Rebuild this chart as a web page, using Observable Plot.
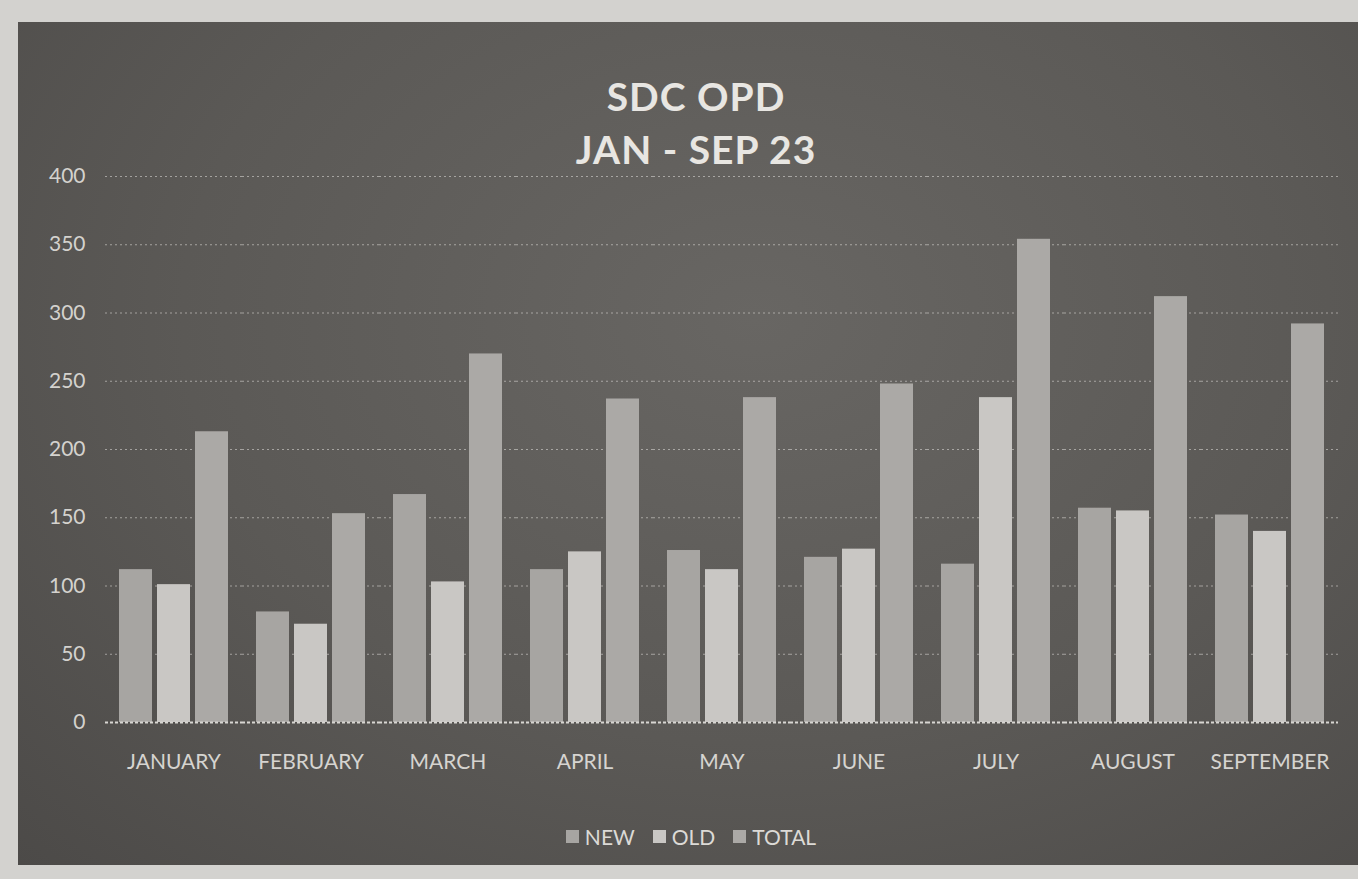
<!DOCTYPE html>
<html><head><meta charset="utf-8">
<script src="https://cdn.jsdelivr.net/npm/d3@7"></script>
<script src="https://cdn.jsdelivr.net/npm/@observablehq/plot@0.6"></script>
<style>
body{margin:0;background:#d3d2cf;width:1358px;height:879px;overflow:hidden;font-family:Lato,"Open Sans",sans-serif;position:relative;}
#chart{position:absolute;left:18px;top:22px;width:1340px;height:843px;
 background:radial-gradient(ellipse at 55% 35%, #686663 0%, #5b5956 55%, #4c4a48 100%);}
#title{position:absolute;top:48px;left:8px;width:100%;text-align:center;color:#e8e6e2;font-weight:bold;font-size:39px;line-height:53px;letter-spacing:1px;}
#plot{position:absolute;left:0;top:138px;}
#legend{position:absolute;top:800px;left:0;width:100%;text-align:center;color:#dcdad6;font-size:21px;padding-left:6px;box-sizing:border-box;}
#legend span.item{display:inline-flex;align-items:center;margin:0 9px;}
#legend span.sw{display:inline-block;width:13px;height:13px;margin-right:6px;}
</style></head>
<body>
<div id="chart">
  <div id="title">SDC OPD<br>JAN - SEP 23</div>
  <div id="plot"></div>
  <div id="legend"></div>
</div>
<script>
const months = ["JANUARY","FEBRUARY","MARCH","APRIL","MAY","JUNE","JULY","AUGUST","SEPTEMBER"];
const seriesNames = ["NEW","OLD","TOTAL"];
const newVals = [112, 81, 167, 112, 126, 121, 116, 157, 152];
const oldVals = [101, 72, 103, 125, 112, 127, 238, 155, 140];
const totalVals = [213, 153, 270, 237, 238, 248, 354, 312, 292];
const yTicks = [0, 50, 100, 150, 200, 250, 300, 350, 400];
const seriesColors = ["#a7a5a2", "#c9c7c4", "#aba9a6"];

const valuesBySeries = [newVals, oldVals, totalVals];
const data = [];
months.forEach((m, i) => seriesNames.forEach((s, j) => data.push({month: m, series: s, value: valuesBySeries[j][i]})));

const chart = Plot.plot({
  width: 1340,
  height: 640,
  marginTop: 16,
  marginBottom: 78,
  marginLeft: 87,
  marginRight: 20,
  style: {background: "transparent", fontFamily: "Lato, 'Open Sans', sans-serif"},
  fx: {domain: months, padding: 0, label: null},
  x: {domain: seriesNames, axis: null, paddingInner: 0.13, paddingOuter: 0.36},
  y: {domain: [0, 400], label: null},
  color: {domain: seriesNames, range: seriesColors},
  marks: [
    Plot.gridY(yTicks.filter(d => d > 0), {stroke: "#e2e0dc", strokeOpacity: 0.55, strokeDasharray: "2,3"}),
    Plot.barY(data, {fx: "month", x: "series", y: "value", fill: "series"}),
    Plot.ruleY([0], {stroke: "#d8d6d2", strokeWidth: 2, strokeDasharray: "3,2"}),
    Plot.axisY(yTicks, {tickSize: 0, tickPadding: 20, fontSize: 21, fill: "#d4d2ce", label: null}),
    Plot.axisFx({anchor: "bottom", tickSize: 0, tickPadding: 32, fontSize: 21, fill: "#d6d4d0", label: null})
  ]
});
document.getElementById("plot").appendChild(chart);

const legend = document.getElementById("legend");
seriesNames.forEach((s, i) => {
  const item = document.createElement("span");
  item.className = "item";
  const sw = document.createElement("span");
  sw.className = "sw";
  sw.style.background = seriesColors[i];
  item.appendChild(sw);
  item.appendChild(document.createTextNode(s));
  legend.appendChild(item);
});
</script>
</body></html>
